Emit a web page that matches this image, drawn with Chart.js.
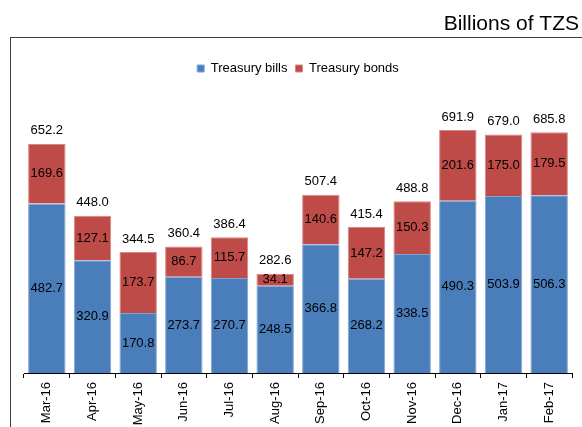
<!DOCTYPE html>
<html>
<head>
<meta charset="utf-8">
<script src="https://cdn.jsdelivr.net/npm/chart.js@4"></script>
<style>
  html, body { margin: 0; padding: 0; background: #fff; overflow: hidden; }
  #wrap { width: 582px; height: 427px; position: relative; }
</style>
</head>
<body>
<div id="wrap"><canvas id="debtChart"></canvas></div>
<script>
const months = ["Mar-16", "Apr-16", "May-16", "Jun-16", "Jul-16", "Aug-16",
  "Sep-16", "Oct-16", "Nov-16", "Dec-16", "Jan-17", "Feb-17"];
const treasuryBills = [482.7, 320.9, 170.8, 273.7, 270.7, 248.5, 366.8, 268.2, 338.5, 490.3, 503.9, 506.3];
const treasuryBonds = [169.6, 127.1, 173.7, 86.7, 115.7, 34.1, 140.6, 147.2, 150.3, 201.6, 175.0, 179.5];
const totals = [652.2, 448.0, 344.5, 360.4, 386.4, 282.6, 507.4, 415.4, 488.8, 691.9, 679.0, 685.8];

const fontFamily = "'Liberation Sans', Arial, sans-serif";

// frame + unit title + value labels
const decorations = {
  id: "decorations",
  beforeDraw(chart) {
    const ctx = chart.ctx;
    ctx.save();
    ctx.strokeStyle = "#404040";
    ctx.lineWidth = 1;
    ctx.strokeRect(10.5, 37.5, 700, 500);
    ctx.fillStyle = "#000";
    ctx.font = "21px " + fontFamily;
    ctx.textAlign = "right";
    ctx.textBaseline = "alphabetic";
    ctx.fillText("Billions of TZS", 579, 30);
    ctx.restore();
  },
  afterDatasetsDraw(chart) {
    const ctx = chart.ctx;
    ctx.save();
    ctx.fillStyle = "#000";
    ctx.font = "13px " + fontFamily;
    ctx.textAlign = "center";
    ctx.textBaseline = "middle";
    chart.data.datasets.forEach((ds, i) => {
      chart.getDatasetMeta(i).data.forEach((bar, j) => {
        const mid = (bar.y + bar.base) / 2;
        ctx.fillText(ds.data[j].toFixed(1), bar.x, mid);
      });
    });
    const top = chart.getDatasetMeta(1).data;
    top.forEach((bar, j) => {
      ctx.fillText(totals[j].toFixed(1), bar.x, bar.y - 13);
    });
    ctx.restore();
  }
};

new Chart(document.getElementById("debtChart"), {
  type: "bar",
  data: {
    labels: months,
    datasets: [
      {
        label: "Treasury bills",
        data: treasuryBills,
        backgroundColor: "#4a7ebb",
        borderColor: "#7fa4d3",
        borderWidth: 1,
        barPercentage: 0.82,
        categoryPercentage: 1,
      },
      {
        label: "Treasury bonds",
        data: treasuryBonds,
        backgroundColor: "#be4b48",
        borderColor: "#d88583",
        borderWidth: 1,
        barPercentage: 0.82,
        categoryPercentage: 1,
      },
    ],
  },
  options: {
    responsive: true,
    maintainAspectRatio: false,
    animation: false,
    layout: { padding: { top: 54, left: 24, right: 10, bottom: 0 } },
    scales: {
      x: {
        stacked: true,
        afterFit: (scale) => { scale.height = 54; },
        grid: {
          display: true,
          drawOnChartArea: false,
          color: "#000",
          tickLength: 5,
        },
        border: { color: "#000" },
        ticks: {
          minRotation: 90,
          maxRotation: 90,
          color: "#000",
          padding: 4,
          font: { family: fontFamily, size: 13 },
        },
      },
      y: {
        stacked: true,
        display: false,
        min: 0,
        max: 820,
      },
    },
    plugins: {
      legend: {
        position: "top",
        labels: {
          boxWidth: 7,
          boxHeight: 7,
          color: "#000",
          padding: 8,
          font: { family: fontFamily, size: 13 },
        },
      },
      tooltip: { enabled: false },
    },
  },
  plugins: [decorations],
});
</script>
</body>
</html>
